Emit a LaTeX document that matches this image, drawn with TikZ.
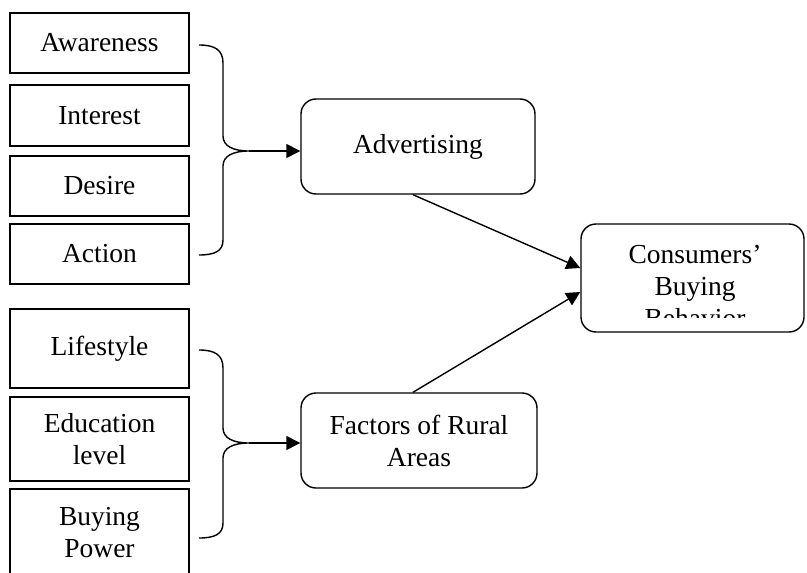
\documentclass[tikz,border=0pt]{standalone}
\usepackage{fontspec}
\setmainfont{Liberation Serif}
\usetikzlibrary{arrows.meta,calc}
\tikzset{
  sqbox/.style={draw, line width=1.4pt, inner sep=0pt, align=center},
  rbox/.style={draw, line width=1.4pt, rounded corners=15pt, inner sep=0pt, align=center},
  brace/.style={line width=1.4pt},
  conn/.style={line width=1.4pt, -{Triangle[length=14pt,width=14pt]}},
}
\begin{document}
\begin{tikzpicture}[x=1pt,y=-1pt,font=\fontsize{27.5}{32}\selectfont]
\useasboundingbox (0,0) rectangle (807,573);
% left boxes
\node[sqbox, minimum width=179pt, minimum height=60pt] (aw) at (99.5,43) {Awareness};
\node[sqbox, minimum width=179pt, minimum height=61pt] (in) at (99.5,115.5) {Interest};
\node[sqbox, minimum width=179pt, minimum height=60pt] (de) at (99.5,186) {Desire};
\node[sqbox, minimum width=179pt, minimum height=60pt] (ac) at (99.5,254) {Action};
\node[sqbox, minimum width=179pt, minimum height=79pt] (li) at (99.5,348.5) {Lifestyle};
\node[sqbox, minimum width=179pt, minimum height=84pt] (ed) at (99.5,439) {Education\\level};
\node[align=center, inner sep=0pt] (bp) at (99.5,533) {Buying\\Power};
\draw[line width=1.4pt] (10,580) -- (10,489) -- (189,489) -- (189,580);
% middle boxes
\node[rbox, minimum width=234pt, minimum height=95pt] (adv) at (418,146.5) {Advertising};
\node[rbox, minimum width=236pt, minimum height=95pt] (fac) at (419,440.5) {Factors of Rural\\Areas};
\node[rbox, minimum width=223pt, minimum height=108pt] (cons) at (692.5,278) {};
\begin{scope}
  \clip (581,224) rectangle (804,317);
  \node[align=center, inner sep=0pt, anchor=north] (constext) at (695,245) {Consumers'\\Buying\\Behavior};
\end{scope}
% braces
\coordinate (t1) at (249,151);
\coordinate (t2) at (249,443);
\draw[brace] (199,45) .. controls (215,45) and (223,50) .. (223,63) -- (223,136)
  .. controls (223,146) and (233,151) .. (t1)
  .. controls (233,151) and (223,156) .. (223,166) -- (223,240)
  .. controls (223,251) and (215,255) .. (199,255);
\draw[brace] (199,350) .. controls (215,350) and (223,355) .. (223,368) -- (223,428)
  .. controls (223,438) and (233,443) .. (t2)
  .. controls (233,443) and (223,448) .. (223,458) -- (223,523)
  .. controls (223,534) and (215,538) .. (199,538);
% connectors
\draw[conn] (t1) -- (t1 -| adv.west);
\draw[conn] (t2) -- (t2 -| fac.west);
\draw[conn] ([xshift=-5pt]adv.south) -- ([yshift=10pt]cons.west);
\draw[conn] ([xshift=-6pt]fac.north) -- ([yshift=-14pt]cons.west);
\end{tikzpicture}
\end{document}
